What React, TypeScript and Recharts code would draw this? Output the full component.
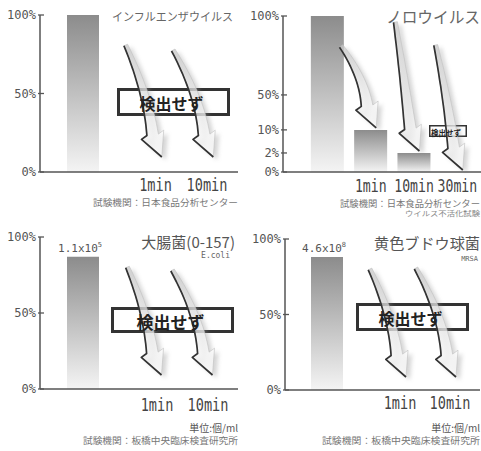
import { BarChart, Bar, XAxis, YAxis, LabelList } from "recharts";

// ---------- data ----------
const PCT_TICKS = [0, 50, 100];

const FLU_TIMES = ["", "1min", "10min"];
const FLU_START = [100, null, null];
const FLU_AFTER = [null, 0, 0];

const NORO_TIMES = ["", "1min", "10min", "30min"];
const NORO_VALUES = [100, 10, 2, 0];
const NORO_TICKS = [0, 2, 10, 50, 100];
// the printed axis is not linear: where each tick sits, in % of axis height
const NORO_TICK_POS = [0, 12.2, 27, 49.4, 100];

const ECOLI_TIMES = ["", "1min", "10min"];
const ECOLI_START = [87, null, null];
const ECOLI_AFTER = [null, 0, 0];
const ECOLI_COUNT = ["1.1x10^5", null, null];

const MRSA_TIMES = ["", "1min", "10min"];
const MRSA_START = [88, null, null];
const MRSA_AFTER = [null, 0, 0];
const MRSA_COUNT = ["4.6x10^8", null, null];

const fluData = FLU_TIMES.map((t, i) => ({ t, start: FLU_START[i], after: FLU_AFTER[i], count: null }));
const noroData = NORO_TIMES.map((t, i) => ({ t, value: NORO_VALUES[i], after: i === 0 ? null : NORO_VALUES[i] }));
const ecoliData = ECOLI_TIMES.map((t, i) => ({ t, start: ECOLI_START[i], after: ECOLI_AFTER[i], count: ECOLI_COUNT[i] }));
const mrsaData = MRSA_TIMES.map((t, i) => ({ t, start: MRSA_START[i], after: MRSA_AFTER[i], count: MRSA_COUNT[i] }));

function noroPos(v: number) {
  for (let i = 1; i < NORO_TICKS.length; i++) {
    if (v <= NORO_TICKS[i]) {
      const a = NORO_TICKS[i - 1], b = NORO_TICKS[i];
      const t = (v - a) / (b - a);
      return NORO_TICK_POS[i - 1] + t * (NORO_TICK_POS[i] - NORO_TICK_POS[i - 1]);
    }
  }
  return 100;
}

// ---------- styling ----------
const AXIS = { stroke: "#555", strokeWidth: 1.5 };
const MONO = "DejaVu Sans Mono";
const JP = "Noto Sans CJK JP";

type Pt = [number, number];

// curved "drop" arrow from tail to tip
function arrowGeom(tail: Pt, tip: Pt) {
  const [tx, ty] = tail;
  const [px, py] = tip;
  const ux = 0.38, uy = 0.925;
  const headLen = 24, headHalf = 12;
  const nx = px - ux * headLen, ny = py - uy * headLen;
  const el = Math.hypot(0.12, 1);
  const ex = 0.12 / el, ey = 1 / el;
  const k = Math.hypot(nx - tx, ny - ty) * 0.45;
  const cx = nx - ex * k, cy = ny - ey * k;
  const left: Pt[] = [], right: Pt[] = [];
  for (let i = 0; i <= 16; i++) {
    const t = i / 16, s = 1 - t;
    const x = s * s * tx + 2 * s * t * cx + t * t * nx;
    const y = s * s * ty + 2 * s * t * cy + t * t * ny;
    const dx = 2 * s * (cx - tx) + 2 * t * (nx - cx);
    const dy = 2 * s * (cy - ty) + 2 * t * (ny - cy);
    const l = Math.hypot(dx, dy) || 1;
    const w = 2 + 3.8 * t;
    const lx = -dy / l, ly = dx / l;
    left.push([x + lx * w, y + ly * w]);
    right.push([x - lx * w, y - ly * w]);
  }
  const hx = -uy, hy = ux;
  const L: Pt = [nx + hx * headHalf, ny + hy * headHalf];
  const R: Pt = [nx - hx * headHalf, ny - hy * headHalf];
  const outline: Pt[] = [...left, L, [px, py], R, ...right.reverse()];
  const edge: Pt[] = [...left, L, [px, py]];
  return { outline, edge };
}

const toD = (pts: Pt[], close: boolean) =>
  pts.map((p, i) => `${i ? "L" : "M"}${p[0].toFixed(1)},${p[1].toFixed(1)}`).join("") + (close ? "Z" : "");

type ArrowCfg = { id: string; top: number; tails: Record<number, { dx: number; dy: number }>; tipDx: number; tipGap: number; times: string[] };

function makeArrowShape(cfg: ArrowCfg) {
  return (props: any) => {
    const { x, y, width, payload } = props;
    if (payload?.after == null || !Number.isFinite(x) || !Number.isFinite(y)) return <g />;
    const i = props.index ?? cfg.times.indexOf(payload.t);
    const tc = cfg.tails[i] ?? { dx: -30, dy: 30 };
    const cx = x + width / 2;
    const { outline, edge } = arrowGeom([cx + tc.dx, cfg.top + tc.dy], [cx + cfg.tipDx, y - cfg.tipGap]);
    const d = toD(outline, true);
    return (
      <g>
        <path d={d} fill="#888" opacity={0.35} transform="translate(4,3)" filter={`url(#blur-${cfg.id})`} />
        <path d={d} fill={`url(#arrow-${cfg.id})`} fillOpacity={0.72} stroke="#c0c0c0" strokeWidth={0.6} />
        <path d={toD(edge, false)} fill="none" stroke="#333" strokeWidth={1.7} strokeLinejoin="round" />
      </g>
    );
  };
}

function Defs({ id }: { id: string }) {
  return (
    <defs>
      <linearGradient id={`bar-${id}`} x1="0" y1="0" x2="0" y2="1">
        <stop offset="0%" stopColor="#8c8c8c" />
        <stop offset="100%" stopColor="#f4f4f4" />
      </linearGradient>
      <linearGradient id={`arrow-${id}`} x1="0" y1="0" x2="1" y2="0.3">
        <stop offset="0%" stopColor="#c2c2c2" />
        <stop offset="100%" stopColor="#ffffff" />
      </linearGradient>
      <filter id={`blur-${id}`} x="-30%" y="-30%" width="160%" height="160%">
        <feGaussianBlur stdDeviation="2" />
      </filter>
    </defs>
  );
}

function makeYTick(label: (v: number) => string) {
  return (props: any) => {
    const { x, y, payload } = props;
    return (
      <g>
        <line x1={x - 2} x2={x + 4} y1={y} y2={y} stroke="#555" strokeWidth={1.3} />
        <text x={x - 4} y={y} dy={4} textAnchor="end" fontFamily={MONO} fontSize={12} fill="#555">
          {label(payload.value)}
        </text>
      </g>
    );
  };
}

const pctTick = makeYTick((v) => `${v}%`);
const noroTick = makeYTick((v) => {
  let best = 0;
  NORO_TICK_POS.forEach((p, i) => { if (Math.abs(p - v) < Math.abs(NORO_TICK_POS[best] - v)) best = i; });
  return `${NORO_TICKS[best]}%`;
});

// narrow, tall time labels (the print uses a condensed mono face)
function makeXTick(dy: number, size: number) {
  return (props: any) => {
    const { x, y, payload } = props;
    const label = String(payload?.value ?? "");
    if (!label) return <g />;
    return (
      <text transform={`translate(${x},${y + dy}) scale(1,1.3)`} textAnchor="middle"
        fontFamily={MONO} fontSize={size} fill="#444">
        {label}
      </text>
    );
  };
}

function CountLabel(props: any) {
  const { x, y, width, value } = props;
  if (!value) return null;
  const [base, exp] = String(value).split("^");
  return (
    <text x={x + width / 2 - 3} y={y - 5} textAnchor="middle" fontFamily={MONO} fontSize={11} fill="#555">
      {base}
      <tspan dy={-5} fontSize={7}>{exp}</tspan>
    </text>
  );
}

type KillGeom = {
  id: string; left: number; top: number; width: number; height: number;
  margin: { top: number; right: number; bottom: number; left: number };
  yWidth: number; barPad: { left: number; right: number }; timePad: { left: number; right: number };
  tickDy: number; arrow: Omit<ArrowCfg, "id" | "top" | "times">;
};

function KillPanel({ data, times, g }: { data: any[]; times: string[]; g: KillGeom }) {
  const arrowShape = makeArrowShape({ id: g.id, top: g.margin.top, times, ...g.arrow });
  return (
    <div style={{ position: "absolute", left: g.left, top: g.top }}>
      <BarChart width={g.width} height={g.height} data={data} margin={g.margin}>
        <Defs id={g.id} />
        <XAxis xAxisId="bar" dataKey="t" hide height={0} padding={g.barPad} />
        <XAxis xAxisId="time" dataKey="t" height={30} padding={g.timePad} interval={0}
          tickSize={0} tickMargin={0} tickLine={false} axisLine={AXIS} tick={makeXTick(g.tickDy, 13.6)} />
        <YAxis width={g.yWidth} domain={[0, 100]} ticks={PCT_TICKS} interval={0}
          tickSize={0} tickMargin={0} tickLine={false} axisLine={AXIS} tick={pctTick} />
        <Bar xAxisId="bar" dataKey="start" barSize={32} fill={`url(#bar-${g.id})`} isAnimationActive={false}>
          <LabelList dataKey="count" content={CountLabel} />
        </Bar>
        <Bar xAxisId="time" dataKey="after" barSize={20} shape={arrowShape} isAnimationActive={false} />
      </BarChart>
    </div>
  );
}

const FLU_GEOM: KillGeom = {
  id: "flu", left: 0, top: 0, width: 240, height: 225,
  margin: { top: 15, right: 2, bottom: 23, left: 5 }, yWidth: 35,
  barPad: { left: 20, right: 43 }, timePad: { left: 38.25, right: 5.25 }, tickDy: 19,
  arrow: { tails: { 1: { dx: -34, dy: 35 }, 2: { dx: -34, dy: 35 } }, tipDx: 6, tipGap: 15 },
};
const ECOLI_GEOM: KillGeom = {
  id: "ecoli", left: 0, top: 225, width: 240, height: 226,
  margin: { top: 12, right: 2, bottom: 32, left: 5 }, yWidth: 35,
  barPad: { left: 20, right: 40 }, timePad: { left: 40.5, right: 4.5 }, tickDy: 22,
  arrow: { tails: { 1: { dx: -36, dy: 33 }, 2: { dx: -34, dy: 33 } }, tipDx: 4, tipGap: 14 },
};
const MRSA_GEOM: KillGeom = {
  id: "mrsa", left: 240, top: 225, width: 241, height: 226,
  margin: { top: 14, right: 1, bottom: 31, left: 5 }, yWidth: 40,
  barPad: { left: 20, right: 43 }, timePad: { left: 40, right: 5 }, tickDy: 19,
  arrow: { tails: { 1: { dx: -34, dy: 29 }, 2: { dx: -29, dy: 29 } }, tipDx: 6, tipGap: 13 },
};

function NoroPanel() {
  const pad = { left: 22.85, right: 1.95 };
  const arrowShape = makeArrowShape({
    id: "noro", top: 16, times: NORO_TIMES,
    tails: { 1: { dx: -19, dy: 6 }, 2: { dx: -22, dy: 29 }, 3: { dx: -26, dy: 54 } }, tipDx: 5, tipGap: 2,
  });
  return (
    <div style={{ position: "absolute", left: 240, top: 0 }}>
      <BarChart width={241} height={225} data={noroData} margin={{ top: 16, right: 0, bottom: 23, left: 5 }}>
        <Defs id="noro" />
        <XAxis xAxisId="time" dataKey="t" height={30} padding={pad} interval={0}
          tickSize={0} tickMargin={0} tickLine={false} axisLine={AXIS} tick={makeXTick(20, 13.2)} />
        <XAxis xAxisId="arrow" dataKey="t" hide height={0} padding={pad} />
        <YAxis width={38} domain={[0, 100]} ticks={NORO_TICKS.map(noroPos)} interval={0}
          tickSize={0} tickMargin={0} tickLine={false} axisLine={AXIS} tick={noroTick} />
        <Bar xAxisId="time" dataKey={(d: any) => noroPos(d.value)} barSize={33} fill="url(#bar-noro)" isAnimationActive={false} />
        <Bar xAxisId="arrow" dataKey={(d: any) => (d.after == null ? null : noroPos(d.after))} barSize={20}
          shape={arrowShape} isAnimationActive={false} />
      </BarChart>
    </div>
  );
}

// ---------- annotation text ----------
function T({ x, y, size, children, anchor = "end", color = "#666", weight = 400, family = JP, len }: any) {
  return (
    <text x={x} y={y} fontSize={size} textAnchor={anchor} dominantBaseline="central" fill={color}
      fontWeight={weight} fontFamily={family} textLength={len} lengthAdjust={len ? "spacingAndGlyphs" : undefined}>
      {children}
    </text>
  );
}

// "not detected" boxes: frame under the arrows, wording on top
const BOXES = [
  { x: 117, y: 88, w: 113, h: 28, size: 16, sw: 3 },
  { x: 429, y: 125, w: 38, h: 12, size: 7.5, sw: 1.5 },
  { x: 111, y: 307, w: 123, h: 26, size: 17, sw: 3 },
  { x: 356, y: 303, w: 113, h: 28, size: 16, sw: 3 },
];

export default function App() {
  return (
    <div style={{ position: "absolute", left: 0, top: 0, width: 481, height: 451, background: "#fff", overflow: "hidden" }}>
      <svg width={481} height={451} style={{ position: "absolute", left: 0, top: 0 }}>
        {BOXES.map((b, i) => (
          <rect key={i} x={b.x + b.sw / 2} y={b.y + b.sw / 2} width={b.w - b.sw} height={b.h - b.sw}
            fill="#fff" stroke="#333" strokeWidth={b.sw} />
        ))}
      </svg>
      <KillPanel data={fluData} times={FLU_TIMES} g={FLU_GEOM} />
      <NoroPanel />
      <KillPanel data={ecoliData} times={ECOLI_TIMES} g={ECOLI_GEOM} />
      <KillPanel data={mrsaData} times={MRSA_TIMES} g={MRSA_GEOM} />
      <svg width={481} height={451} style={{ position: "absolute", left: 0, top: 0, pointerEvents: "none" }}>
        {BOXES.map((b, i) => (
          <T key={i} x={b.x + b.w / 2 - 2} y={b.y + b.h / 2 + 1} size={b.size} anchor="middle" color="#222" weight={700}>
            検出せず
          </T>
        ))}

        <T x={233} y={16} size={11.5} len={121}>インフルエンザウイルス</T>
        <T x={238} y={202} size={9} color="#777" len={145}>試験機関：日本食品分析センター</T>

        <T x={480} y={16} size={16} len={94}>ノロウイルス</T>
        <T x={480} y={203} size={9} color="#777" len={140}>試験機関：日本食品分析センター</T>
        <T x={480} y={213} size={7} color="#888" len={75}>ウイルス不活化試験</T>

        <T x={235} y={241} size={15} color="#555">大腸菌(0-157)</T>
        <T x={230} y={255} size={8} color="#666" family={MONO}>E.coli</T>
        <T x={238} y={427} size={10} color="#555">単位:個/ml</T>
        <T x={238} y={440} size={9} color="#777" len={155}>試験機関：板橋中央臨床検査研究所</T>

        <T x={480} y={242} size={15} color="#555" len={106}>黄色ブドウ球菌</T>
        <T x={478} y={259} size={7} color="#666" family={MONO}>MRSA</T>
        <T x={480} y={427} size={10} color="#555">単位:個/ml</T>
        <T x={480} y={440} size={9} color="#777" len={158}>試験機関：板橋中央臨床検査研究所</T>
      </svg>
    </div>
  );
}
